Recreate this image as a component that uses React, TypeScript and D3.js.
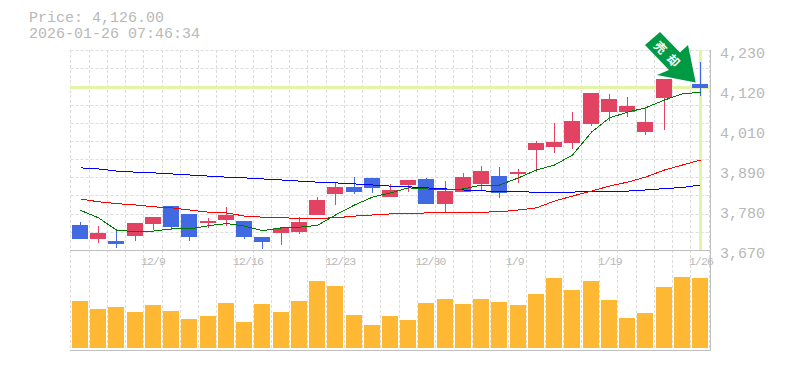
import React from 'react';
import * as d3 from 'd3';

const o = [3740,3701,3695,3709,3743,3793,3771,3746,3754,3751,3706,3718,3720,3768,3827,3846,3872,3818,3852,3869,3799,3832,3855,3877,3883,3950,3958,3970,4023,4056,4056,4000,4096,4152,4134];
const h = [3748,3737,3726,3746,3762,3793,3771,3760,3790,3751,3706,3732,3762,3818,3858,3874,3872,3855,3866,3872,3863,3886,3905,3902,3897,3975,4026,4056,4110,4107,4098,4070,4149,4202,4196];
const l = [3701,3690,3676,3695,3726,3726,3695,3732,3737,3701,3673,3684,3715,3768,3796,3827,3830,3818,3832,3799,3776,3832,3835,3816,3858,3888,3942,3953,4017,4031,4042,3992,4006,4146,4101];
const c = [3701,3718,3687,3746,3762,3734,3706,3751,3768,3706,3692,3732,3748,3810,3846,3832,3844,3838,3866,3799,3835,3874,3891,3830,3888,3970,3972,4031,4110,4093,4073,4028,4149,4191,4125];
const maShort = [3781,3760,3726,3721,3723,3729,3729,3738,3744,3737,3724,3732,3734,3739,3768,3796,3818,3830,3844,3841,3838,3841,3852,3852,3872,3894,3908,3936,4000,4040,4056,4068,4090,4107,4112];
const maMid = [3813,3805,3800,3796,3791,3788,3782,3776,3774,3765,3762,3760,3759,3759,3760,3765,3768,3771,3771,3774,3774,3774,3776,3777,3782,3788,3807,3821,3835,3849,3860,3874,3894,3908,3922];
const maLong = [3900,3897,3891,3888,3886,3883,3880,3877,3874,3872,3869,3866,3863,3860,3858,3855,3852,3849,3847,3844,3841,3838,3836,3833,3833,3832,3832,3832,3835,3835,3835,3838,3842,3845,3852];
const volume = [47,39,41,36,43,37,29,32,45,26,44,36,47,67,62,33,23,32,28,45,49,44,49,46,43,54,70,58,67,48,30,35,61,71,70];
const dateLabels = ['12/9','12/16','12/23','12/30','1/9','1/19','1/26'];
const dateIndex = [4,9,14,19,24,29,34];
const labelOffsets = [0,4,5,4,-3,1,1];
const priceLabels = ['4,230','4,120','4,010','3,890','3,780','3,670'];
const lastPrice = 4126;
const title = ['Price: 4,126.00','2026-01-26 07:46:34'];
const signal = ['売','却'];

const W = 785, H = 370;
const L = 70.5, R = 710.5, T = 50, B = 250, VB = 350;
const GRID = '#dcdcdc', AXIS = '#bfbfbf', TEXT = '#b8b8b8';
const UP = '#e34362', DOWN = '#4169e1', HL = '#e2f5a6';

export default function App() {
  const n = o.length;
  const x = d3.scaleLinear().domain([0, n - 1]).range([80, 700]);
  const y = d3.scaleLinear().domain([3670, 4230]).range([B, T]);
  const v = d3.scaleLinear().domain([0, 71]).range([348, 277]);
  const line = d3.line<number>().x((_, i) => Math.round(x(i)) + 0.5).y(d => y(d));
  const hLines = d3.range(0, 12).map(i => Math.round(T + (i * (B - T)) / 11) + 0.5);
  const vLines = d3.range(0, n + 1).map(i => Math.round(x(i) - 9.6) + 0.5);
  const yLabel = d3.scaleLinear().domain([0, 5]).range([58, 258]);
  return (
    <svg width={W} height={H} style={{ position: 'absolute', left: 0, top: 0 }} fontFamily="'Liberation Mono', monospace">
      <rect width={W} height={H} fill="#fff" />
      <g fill={TEXT} fontSize={15}>
        <text x={29} y={22}>{title[0]}</text>
        <text x={29} y={38}>{title[1]}</text>
        {priceLabels.map((t, i) => (
          <text key={t} x={720} y={yLabel(i)}>{t}</text>
        ))}
      </g>
      <g stroke={GRID} strokeDasharray="3 2" fill="none">
        {hLines.map(p => <line key={p} x1={L} x2={R} y1={p} y2={p} />)}
        {vLines.map(p => <line key={p} x1={p} x2={p} y1={T} y2={VB} />)}
      </g>
      <g stroke={HL} strokeWidth={3}>
        <line x1={70} x2={R} y1={Math.round(y(lastPrice)) + 0.5} y2={Math.round(y(lastPrice)) + 0.5} />
        <line x1={x(n - 1) + 0.5} x2={x(n - 1) + 0.5} y1={T} y2={B} />
      </g>
      <g stroke={AXIS} fill="none">
        <line x1={70} x2={711} y1={B + 0.5} y2={B + 0.5} />
        <line x1={70} x2={711} y1={VB + 0.5} y2={VB + 0.5} />
        <line x1={R} x2={R} y1={T} y2={VB + 0.5} />
      </g>
      <g fill={TEXT} fontSize={11.5} letterSpacing={-0.9} textAnchor="middle">
        {dateLabels.map((t, i) => (
          <text key={t} x={x(dateIndex[i]) + labelOffsets[i]} y={265}>{t}</text>
        ))}
      </g>
      <g fill="#ffb833">
        {volume.map((d, i) => (
          <rect key={i} x={Math.round(x(i)) - 8} width={16} y={v(d)} height={348 - v(d)} />
        ))}
      </g>
      <g>
        {o.map((d, i) => {
          const col = c[i] >= d ? UP : DOWN;
          const top = Math.round(y(Math.max(d, c[i])));
          const bot = Math.round(y(Math.min(d, c[i])));
          const cx = Math.round(x(i));
          const wt = Math.round(y(h[i]));
          const wb = Math.round(y(l[i]));
          return (
            <g key={i} fill={col}>
              <rect x={cx} width={1} y={wt} height={wb - wt} />
              <rect x={cx - 8} width={16} y={top} height={Math.max(bot - top, 1)} />
            </g>
          );
        })}
      </g>
      <g fill="none" strokeWidth={1} shapeRendering="crispEdges">
        <path d={line(maLong) as string} stroke="#0000ff" />
        <path d={line(maMid) as string} stroke="#ff0000" />
        <path d={line(maShort) as string} stroke="#007700" />
      </g>
      <path d="M695.7 82.5 L688 45 L680 52.5 L660 32 L645 45 L669 70 L657 75 Z" fill="#009944" />
      <g fill="#fff" fontSize={12} fontFamily="'Noto Sans CJK JP'" fontWeight={700} textAnchor="middle">
        {signal.map((s, i) => (
          <text key={s} transform={`translate(${660 + i * 13} ${48 + i * 13}) rotate(45)`} y={4}>{s}</text>
        ))}
      </g>
    </svg>
  );
}
